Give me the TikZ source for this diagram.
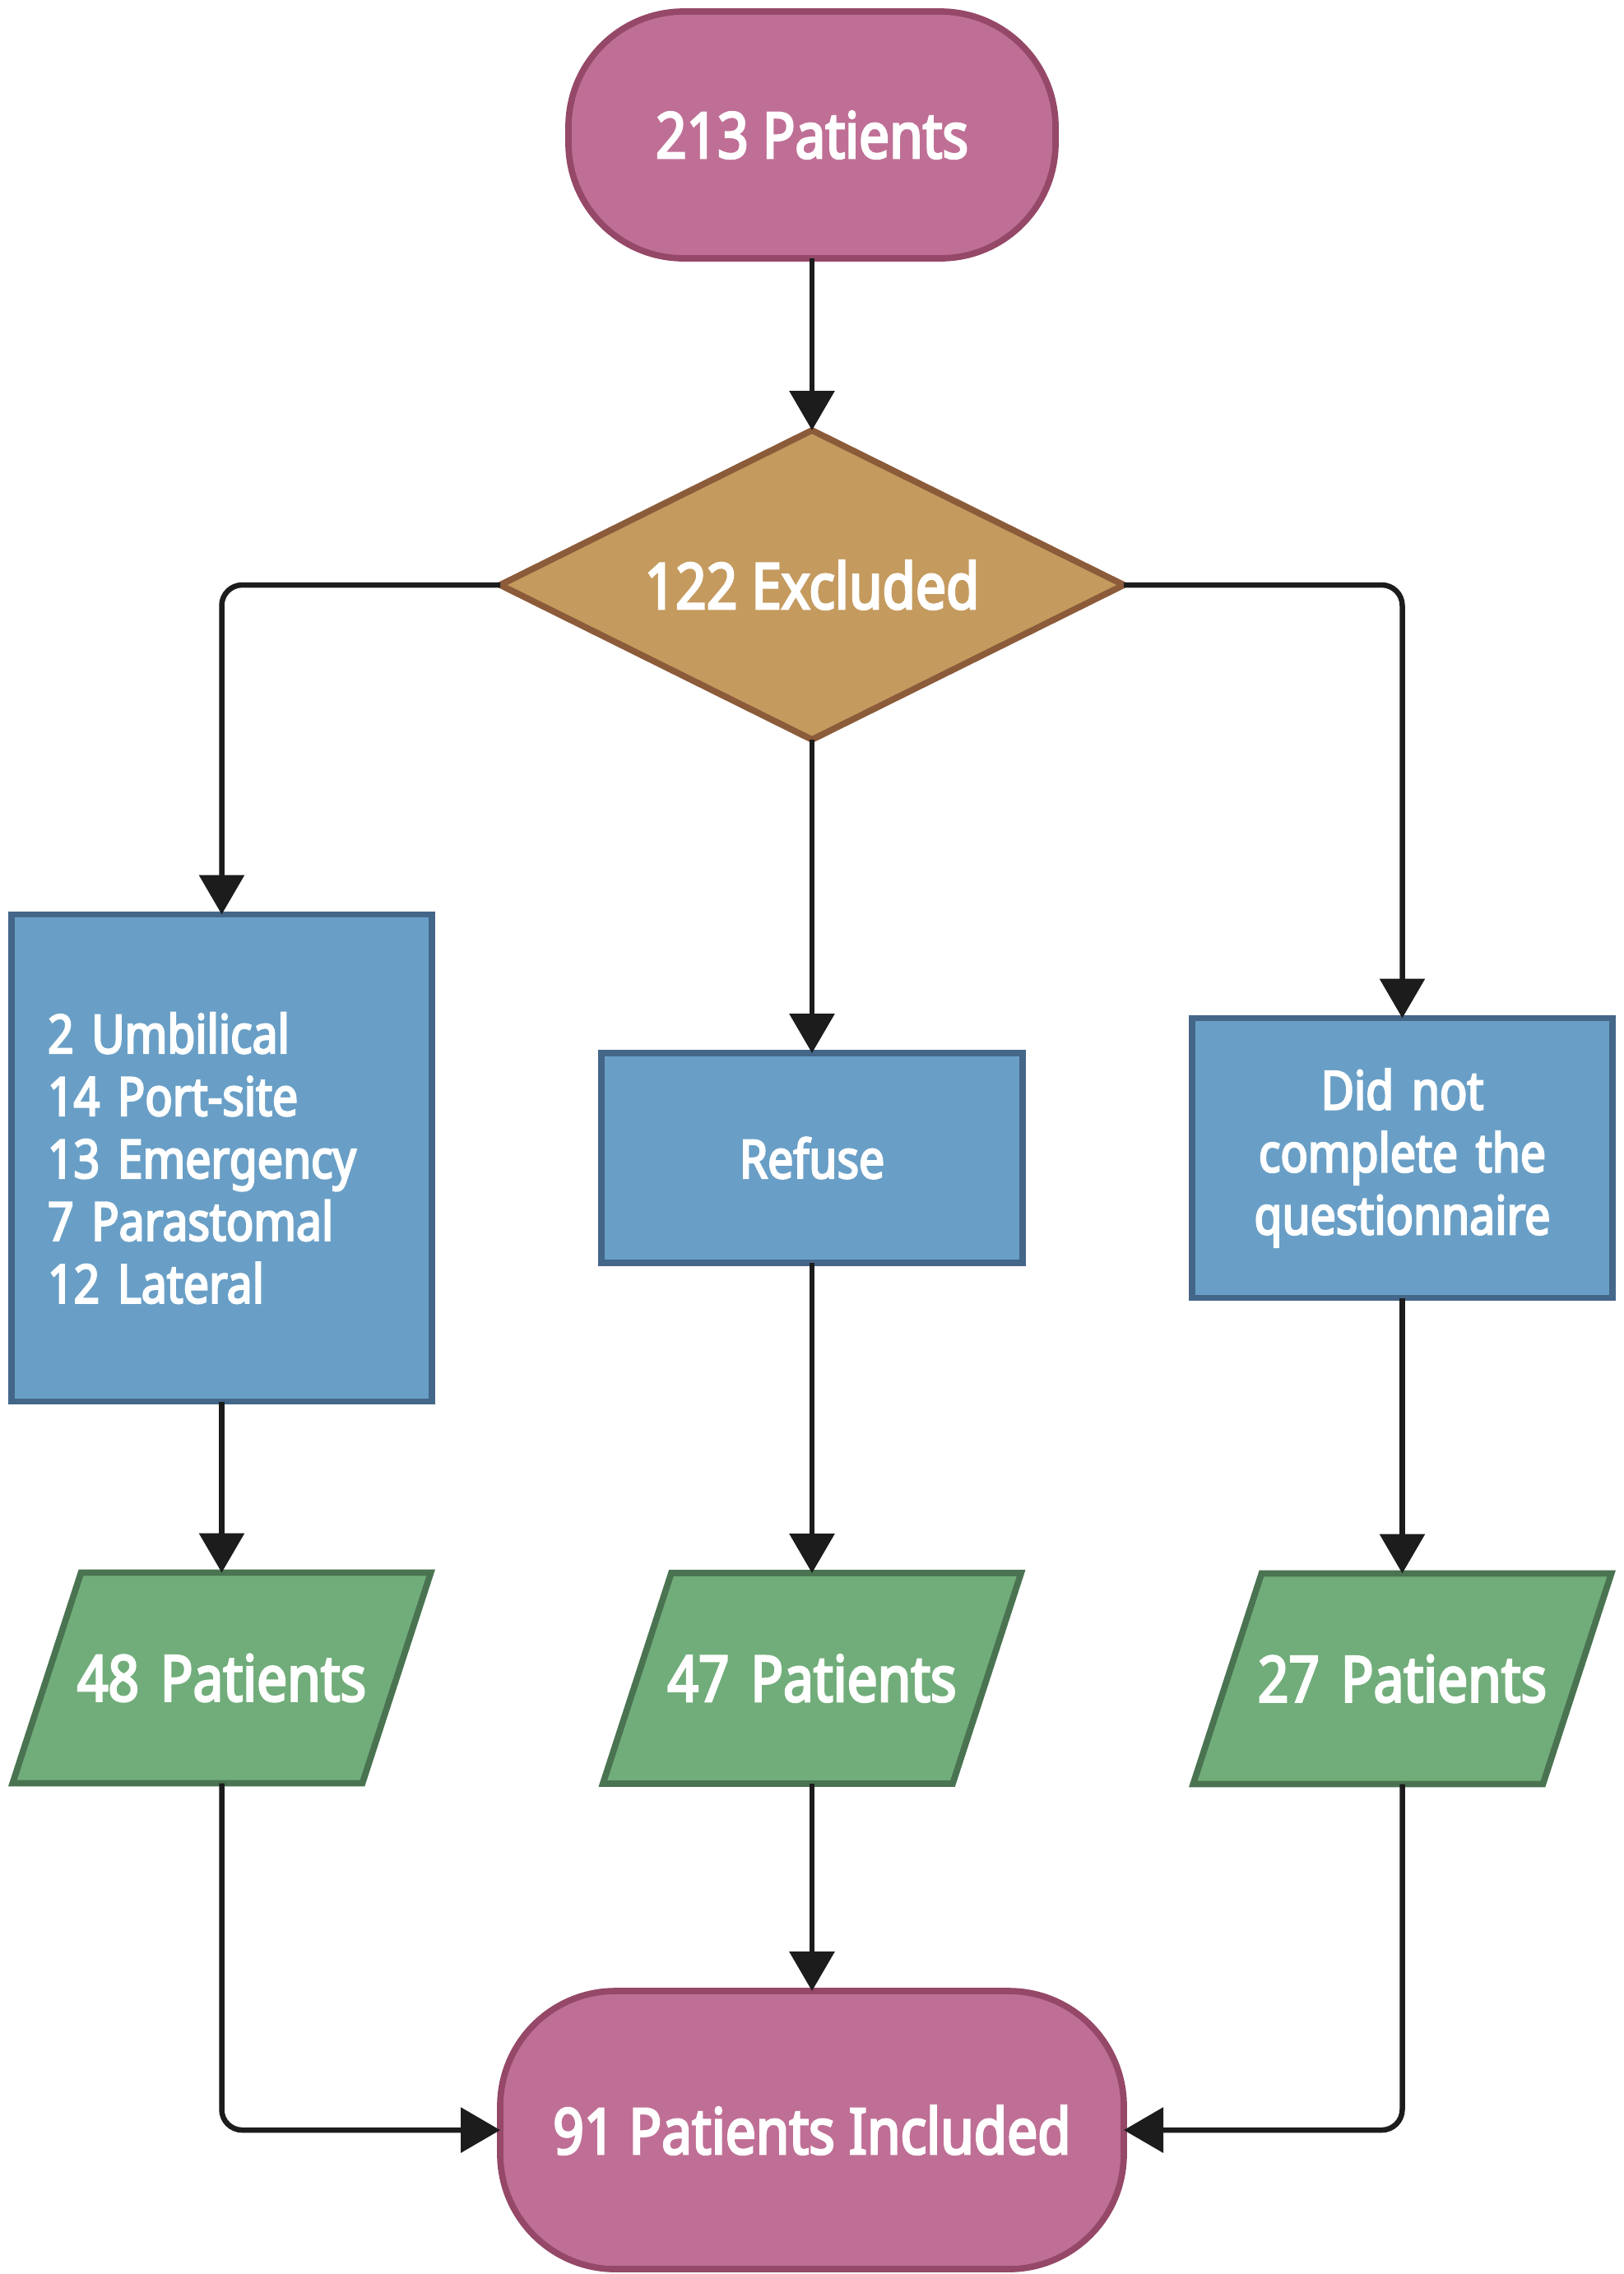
\documentclass[tikz,border=0pt]{standalone}
\usepackage{fontspec}
\setmainfont[FakeStretch=0.85]{Noto Sans}
\newfontfamily\flowfont[FakeStretch=0.85, FakeBold=3.5]{Noto Sans}
\usepackage{tikz}
\usetikzlibrary{arrows.meta, positioning, shapes.geometric}
\definecolor{pinkA}{HTML}{954868}
\definecolor{pinkB}{HTML}{BF6F95}
\definecolor{tanA}{HTML}{8C5B3A}
\definecolor{tanB}{HTML}{C49A5E}
\definecolor{blueA}{HTML}{446689}
\definecolor{blueB}{HTML}{699FC6}
\definecolor{greenA}{HTML}{4A7451}
\definecolor{greenB}{HTML}{71AD7A}
\definecolor{grayA}{HTML}{1C1C1C}
\tikzset{
  terminal/.style={
    draw=pinkA, fill=pinkB, rounded corners=1.4cm,
    line width=2.2pt, align=center, text=white, outer sep=0pt,
    font=\flowfont\fontsize{22}{26}\selectfont
  },
  decision/.style={
    diamond, aspect=2, draw=tanA, fill=tanB, inner sep=0pt,
    line width=2.2pt, text=white, outer sep=0pt,
    minimum width=7.58cm, minimum height=3.76cm,
    font=\flowfont\fontsize{22}{26}\selectfont
  },
  procbox/.style={
    draw=blueA, fill=blueB, line width=2.2pt, text=white, outer sep=0pt,
    font=\flowfont\fontsize{18.5}{21.6}\selectfont
  },
  iobox/.style={
    trapezium, trapezium left angle=72, trapezium right angle=108,
    draw=greenA, fill=greenB, line width=2.2pt, text=white, outer sep=0pt,
    text width=3.52cm, align=center, text height=0.56cm, text depth=0cm,
    inner xsep=-0.05cm, inner ysep=1.0cm,
    font=\flowfont\fontsize{22}{26}\selectfont
  },
  arrow/.style={-{Triangle[length=0.48cm, width=0.54cm]}, line width=0.065cm,
    draw=grayA, rounded corners=0.25cm}
}
\begin{document}
\begin{tikzpicture}
  \useasboundingbox (0,0) rectangle (19.74,-27.64);

  \node[terminal, minimum width=5.92cm, minimum height=3.0cm] (start) at (9.87,-1.64)
    {213 Patients};
  \node[decision, below=2.09cm of start] (excl) {122 Excluded};

  \node[procbox, below=3.81cm of excl, minimum width=5.12cm, minimum height=2.55cm,
    align=center] (refuse) {Refuse};
  \node[procbox, left=2.06cm of refuse, text width=4.23cm, inner sep=0.44cm,
    minimum height=5.92cm, align=left] (types)
    {2 Umbilical\\14 Port-site\\13 Emergency\\7 Parastomal\\12 Lateral};
  \node[procbox, right=2.06cm of refuse, text width=4.23cm, inner sep=0.44cm,
    minimum height=3.40cm, align=center] (noq)
    {Did not\\complete the\\questionnaire};

  \node[iobox, below=2.08cm of types] (pleft) {48 Patients};
  \node[iobox, below=3.77cm of refuse] (pmid) {47 Patients};
  \node[iobox, below=3.35cm of noq] (pright) {27 Patients};

  \node[terminal, below=2.52cm of pmid, minimum width=7.58cm, minimum height=3.38cm]
    (incl) {91 Patients Included};

  \draw[arrow] (start) -- (excl);
  \draw[arrow] (excl.west) -| (types.north);
  \draw[arrow] (excl) -- (refuse);
  \draw[arrow] (excl.east) -| (noq.north);
  \draw[arrow] (types.south) -- (pleft.north);
  \draw[arrow] (refuse.south) -- (pmid.north);
  \draw[arrow] (noq.south) -- (pright.north);
  \draw[arrow] (pleft.south) |- (incl.west);
  \draw[arrow] (pmid.south) -- (incl.north);
  \draw[arrow] (pright.south) |- (incl.east);
\end{tikzpicture}
\end{document}
